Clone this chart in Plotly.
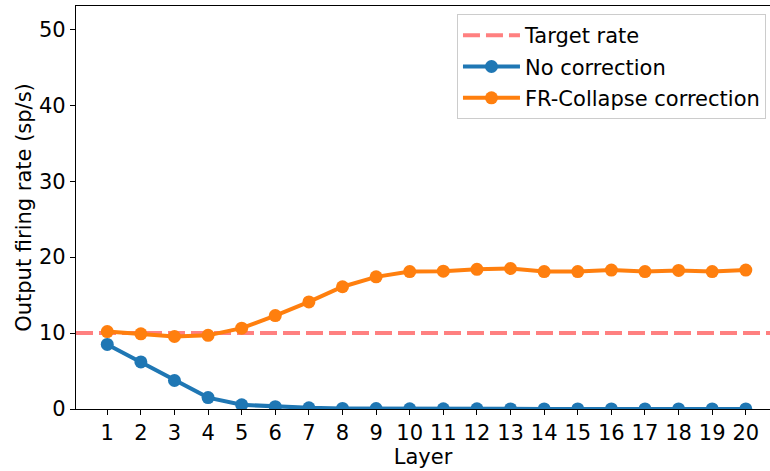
import plotly.graph_objects as go

# Data
layers = list(range(1, 21))
no_correction = [8.5, 6.2, 3.75, 1.5, 0.55, 0.3, 0.15, 0.08, 0.05, 0.03,
                 0.02, 0.02, 0.01, 0.01, 0.01, 0.01, 0.01, 0.01, 0.01, 0.01]
fr_collapse = [10.2, 9.9, 9.55, 9.7, 10.65, 12.3, 14.1, 16.1, 17.4, 18.1,
               18.15, 18.4, 18.5, 18.1, 18.1, 18.3, 18.1, 18.25, 18.1, 18.3]
target_rate = 10
y_ticks = [0, 10, 20, 30, 40, 50]

# Axis limits
x_range = [0.07, 20.72]
y_range = [0, 53.07]

FONT = "DejaVu Sans"
FS = 21
BLUE = "#1f77b4"
ORANGE = "#ff7f0e"
TARGET = "#ff8080"

fig = go.Figure()

fig.add_trace(go.Scatter(
    x=x_range, y=[target_rate, target_rate], mode="lines",
    name="Target rate", legendgroup="a",
    line=dict(color=TARGET, width=4, dash="17px,6px"),
))
fig.add_trace(go.Scatter(
    x=layers, y=no_correction, mode="lines+markers",
    name="No correction", legendgroup="b",
    line=dict(color=BLUE, width=4),
    marker=dict(color=BLUE, size=13),
))
fig.add_trace(go.Scatter(
    x=layers, y=fr_collapse, mode="lines+markers",
    name="FR-Collapse correction", legendgroup="c",
    line=dict(color=ORANGE, width=4),
    marker=dict(color=ORANGE, size=13),
))

axis_common = dict(
    showgrid=False, zeroline=False, showline=True,
    linecolor="black", linewidth=1.2,
    ticks="outside", ticklen=5, tickwidth=1.2, tickcolor="black",
    tickfont=dict(family=FONT, size=FS, color="black"),
)

fig.update_layout(
    width=770, height=471,
    margin=dict(l=76, r=0, t=6, b=62),
    plot_bgcolor="white", paper_bgcolor="white",
    font=dict(family=FONT, size=FS, color="black"),
    xaxis=dict(
        range=x_range, tickvals=layers, mirror=True,
        title=dict(text="Layer", font=dict(family=FONT, size=FS), standoff=2),
        **axis_common,
    ),
    yaxis=dict(
        range=y_range, tickvals=y_ticks,
        title=dict(text="Output firing rate (sp/s)", font=dict(family=FONT, size=FS), standoff=1),
        **axis_common,
    ),
    legend=dict(
        x=0.9942, y=0.980, xanchor="right", yanchor="top",
        bgcolor="rgba(255,255,255,0.8)", bordercolor="#cccccc", borderwidth=1,
        font=dict(family=FONT, size=FS, color="black"),
        traceorder="grouped", tracegroupgap=1, itemwidth=57,
    ),
)

fig.write_html("out.html")
